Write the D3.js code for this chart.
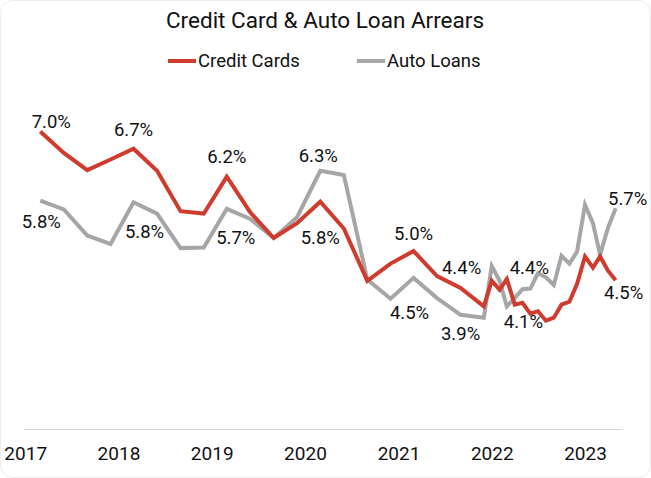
<!DOCTYPE html>
<html>
<head>
<meta charset="utf-8">
<script src="https://cdn.jsdelivr.net/npm/d3@7"></script>
<style>
  html, body { margin: 0; padding: 0; background: #fff; }
  svg { display: block; font-family: Roboto, "Noto Sans", sans-serif; }
</style>
</head>
<body>
<div id="chart"></div>
<script>
// quarterly to end of 2021, monthly from 2022
const dates = [
  '2017-03', '2017-06', '2017-09', '2017-12',
  '2018-03', '2018-06', '2018-09', '2018-12',
  '2019-03', '2019-06', '2019-09', '2019-12',
  '2020-03', '2020-06', '2020-09', '2020-12',
  '2021-03', '2021-06', '2021-09', '2021-12',
  '2022-01', '2022-02', '2022-03', '2022-04', '2022-05', '2022-06',
  '2022-07', '2022-08', '2022-09', '2022-10', '2022-11', '2022-12',
  '2023-01', '2023-02', '2023-03', '2023-04', '2023-05'
];
const creditCards = [
  7.00, 6.64, 6.35, 6.53, 6.71, 6.34, 5.66, 5.62, 6.24, 5.64,
  5.21, 5.46, 5.82, 5.37, 4.49, 4.78, 4.99, 4.57, 4.37, 4.06,
  4.49, 4.34, 4.52, 4.09, 4.12, 3.94, 3.98, 3.82, 3.87, 4.09,
  4.14, 4.44, 4.90, 4.71, 4.90, 4.66, 4.50
];
const autoLoans = [
  5.84, 5.69, 5.25, 5.11, 5.81, 5.62, 5.04, 5.05, 5.70, 5.53,
  5.21, 5.56, 6.34, 6.27, 4.51, 4.19, 4.54, 4.20, 3.92, 3.87,
  4.74, 4.49, 4.06, 4.20, 4.35, 4.36, 4.62, 4.55, 4.42, 4.91,
  4.78, 4.98, 5.77, 5.46, 4.93, 5.38, 5.71
];
const yearTicks = ['2017', '2018', '2019', '2020', '2021', '2022', '2023'];
// which points carry a value label
const ccLabelIdx = [0, 4, 8, 12, 16, 18, 24, 36];
const alLabelIdx = [0, 4, 8, 12, 16, 18, 25, 36];

const width = 651;
const height = 478;
const plot = { left: 24, right: 623, top: 72, bottom: 429 };
const RED = '#cf3b2d';
const GREY = '#a6a6a6';

// label nudges, [dx, dy] from the point to the text centre
const ccNudge = [[11, -10], [0, -19], [0, -20], [0, 36], [0, -18], [1, -20], [1, 19], [8, 12]];
const alNudge = [[1, 21], [11, 29], [9, 29], [-2, -15], [-4, 35], [0, 19], [-1, -21], [12, -10]];

const parse = d3.timeParse('%Y-%m');
const x = d3.scaleTime()
  .domain([parse('2017-01'), parse('2023-01')])
  .range([25.2, 585]);
const y = d3.scaleLinear().domain([2, 8]).range([plot.bottom, plot.top]);

const svg = d3.select('#chart')
  .append('svg')
  .attr('width', width)
  .attr('height', height);

svg.append('rect')
  .attr('x', 0.5).attr('y', 0.5)
  .attr('width', width - 1).attr('height', height - 1)
  .attr('rx', 12)
  .attr('fill', '#fff')
  .attr('stroke', '#ececec');

svg.append('text')
  .attr('x', 325)
  .attr('y', 28)
  .attr('text-anchor', 'middle')
  .attr('font-size', 22.5)
  .attr('fill', '#111')
  .text('Credit Card & Auto Loan Arrears');

const series = [
  { name: 'Credit Cards', values: creditCards, color: RED, labels: ccLabelIdx, nudge: ccNudge },
  { name: 'Auto Loans', values: autoLoans, color: GREY, labels: alLabelIdx, nudge: alNudge }
];

// legend
const legend = svg.append('g').attr('transform', 'translate(168, 61)');
const legendX = [0, 189];
series.forEach((s, i) => {
  const g = legend.append('g').attr('transform', `translate(${legendX[i]}, 0)`);
  g.append('line')
    .attr('x1', 0).attr('x2', 28)
    .attr('stroke', s.color)
    .attr('stroke-width', 4);
  g.append('text')
    .attr('x', 30)
    .attr('dy', '0.35em')
    .attr('font-size', 18.5)
    .attr('fill', '#111')
    .text(s.name);
});

// baseline
svg.append('line')
  .attr('x1', plot.left).attr('x2', plot.right)
  .attr('y1', plot.bottom + 0.5).attr('y2', plot.bottom + 0.5)
  .attr('stroke', '#d9d9d9');

const xAxis = d3.axisBottom(x)
  .tickValues(yearTicks.map(d => d3.timeParse('%Y')(d)))
  .tickFormat(d3.timeFormat('%Y'))
  .tickSize(0)
  .tickPadding(0);
const axisG = svg.append('g')
  .attr('transform', `translate(0, ${plot.bottom})`)
  .call(xAxis);
axisG.select('.domain').remove();
axisG.selectAll('text')
  .attr('y', 24)
  .attr('dy', '0.35em')
  .attr('font-size', 19)
  .attr('font-family', 'Roboto, sans-serif')
  .attr('fill', '#111');

const line = d3.line()
  .x((d, i) => x(parse(dates[i])))
  .y(d => y(d));

// grey first so red sits on top
[series[1], series[0]].forEach(s => {
  svg.append('path')
    .datum(s.values)
    .attr('fill', 'none')
    .attr('stroke', s.color)
    .attr('stroke-width', 4)
    .attr('stroke-linejoin', 'miter')
    .attr('d', line);
});

series.forEach(s => {
  svg.append('g')
    .selectAll('text')
    .data(s.labels)
    .enter()
    .append('text')
    .attr('x', (d, k) => x(parse(dates[d])) + s.nudge[k][0])
    .attr('y', (d, k) => y(s.values[d]) + s.nudge[k][1])
    .attr('dy', '0.35em')
    .attr('text-anchor', 'middle')
    .attr('font-size', 18.5)
    .attr('fill', '#111')
    .text(d => `${d3.format('.1f')(s.values[d])}%`);
});
</script>
</body>
</html>
